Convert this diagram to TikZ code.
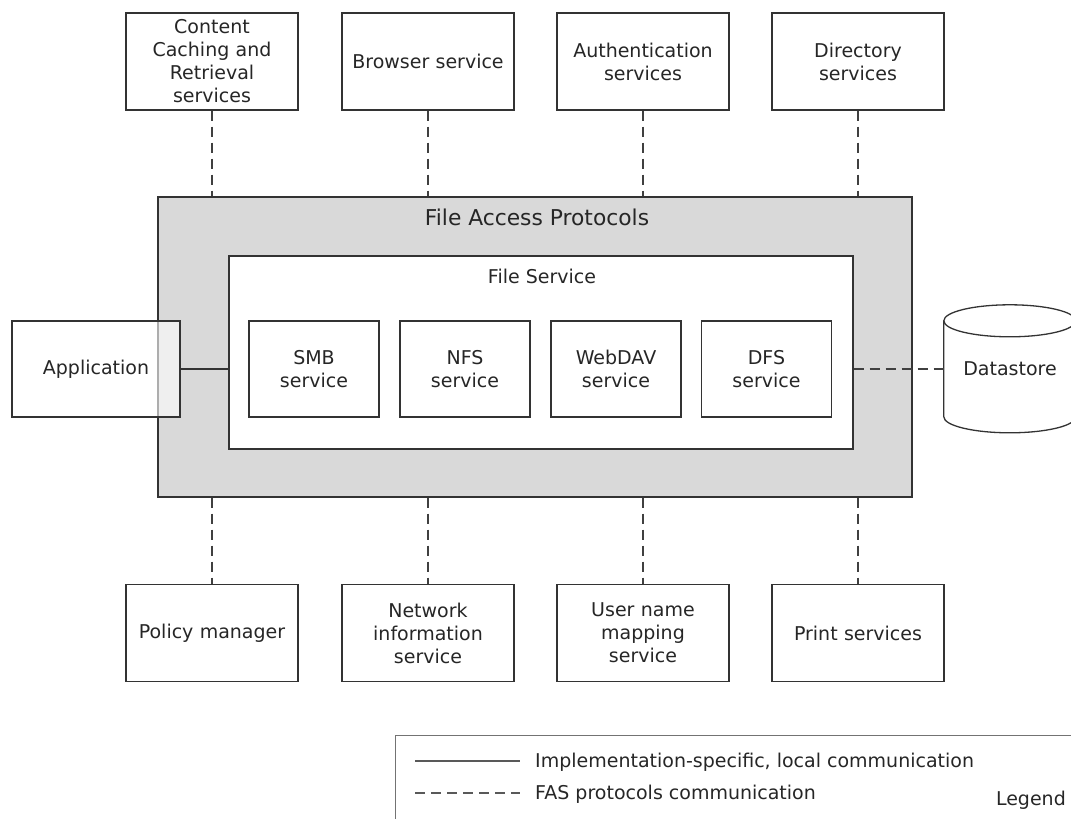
\documentclass[tikz,border=0pt]{standalone}
\usepackage{fontspec}
\setmainfont{DejaVu Sans}
\begin{document}
\begin{tikzpicture}[x=1pt,y=-1pt,
  every node/.style={text=black!85, font=\fontsize{19}{23}\selectfont},
  box/.style={draw=black!80, line width=1.3pt, fill=white, align=center, inner sep=0pt},
  svc/.style={box, minimum width=172pt, minimum height=97pt, text width=168pt},
  sub/.style={box, minimum width=130pt, minimum height=96pt},
  fas/.style={draw=black!75, line width=1.3pt, dash pattern=on 10pt off 6pt},
  loc/.style={draw=black!80, line width=1.3pt}]
\useasboundingbox (0,0) rectangle (1071,819);
\clip (0,0) rectangle (1071,819);
% outer
\node[draw=black!80, line width=1.3pt, fill=black!15, minimum width=754pt, minimum height=300pt, inner sep=0pt] (fap) at (535,347) {};
\node (faplbl) at (537,217) {\fontsize{21.8}{23}\selectfont File Access Protocols};
\node[box, minimum width=624pt, minimum height=193pt] (fs) at (541,352.5) {};
\node (fslbl) at (542,276) {File Service};
\node[sub] (smb) at (314,369) {SMB\\service};
\node[sub] (nfs) at (465,369) {NFS\\service};
\node[sub] (webdav) at (616,369) {WebDAV\\service};
\node[sub] (dfs) at (766.5,369) {DFS\\service};
% application
\node[draw=black!80, line width=1.3pt, fill=white, fill opacity=0.6, text opacity=1, minimum width=168pt, minimum height=96pt, inner sep=0pt] (app) at (96,369) {Application};
\draw[loc] (app.east) -- (app.east -| fs.west);
% top services
\node[svc] (ccr) at (212,61.5) {Content\\Caching and\\Retrieval\\services};
\node[svc] (brw) at (428,61.5) {Browser service};
\node[svc] (auth) at (643,61.5) {Authentication\\services};
\node[svc] (dir) at (858,61.5) {Directory\\services};
% bottom services
\node[svc] (pol) at (212,633) {Policy manager};
\node[svc] (nis) at (428,633) {Network\\information\\service};
\node[svc] (unm) at (643,633) {User name\\mapping\\service};
\node[svc] (prn) at (858,633) {Print services};
\foreach \n in {ccr,brw,auth,dir}{\draw[fas] (\n.south) -- (\n.south |- fap.north);}
\foreach \n in {pol,nis,unm,prn}{\draw[fas] (\n.north |- fap.south) -- (\n.north);}
% datastore
\node[minimum width=132pt, minimum height=128pt, inner sep=0pt] (ds) at (1010,369) {};
\draw[draw=black!80, line width=1.3pt, fill=white]
  (ds.north west) ++(0,16) -- ++(0,96) arc[start angle=180, end angle=360, x radius=66, y radius=-16]
  -- ++(0,-96) arc[start angle=0, end angle=180, x radius=66, y radius=-16] -- cycle;
\draw[draw=black!80, line width=1.3pt] (ds.north west) ++(0,16) arc[start angle=180, end angle=360, x radius=66, y radius=-16];
\node (dslbl) at (ds.center) {Datastore};
\draw[fas] (ds.west -| fs.east) -- (ds.west);
% legend
\node[draw=black!55, line width=1.3pt, minimum width=700pt, minimum height=120pt, anchor=north west, inner sep=0pt] (leg) at (395,735) {};
\coordinate (l1a) at (415,761); \coordinate (l1b) at (520,761);
\coordinate (l2a) at (415,793); \coordinate (l2b) at (520,793);
\draw[draw=black!65, line width=1.3pt] (l1a) -- (l1b);
\draw[draw=black!65, line width=1.3pt, dash pattern=on 10pt off 6pt] (l2a) -- (l2b);
\node[anchor=west, inner sep=0pt] (t1) at (535,762) {Implementation-specific, local communication};
\node[anchor=west, inner sep=0pt] (t2) at (535,794) {FAS protocols communication};
\node[anchor=east, inner sep=0pt] (lg) at (1066,800) {Legend};
\end{tikzpicture}
\end{document}
